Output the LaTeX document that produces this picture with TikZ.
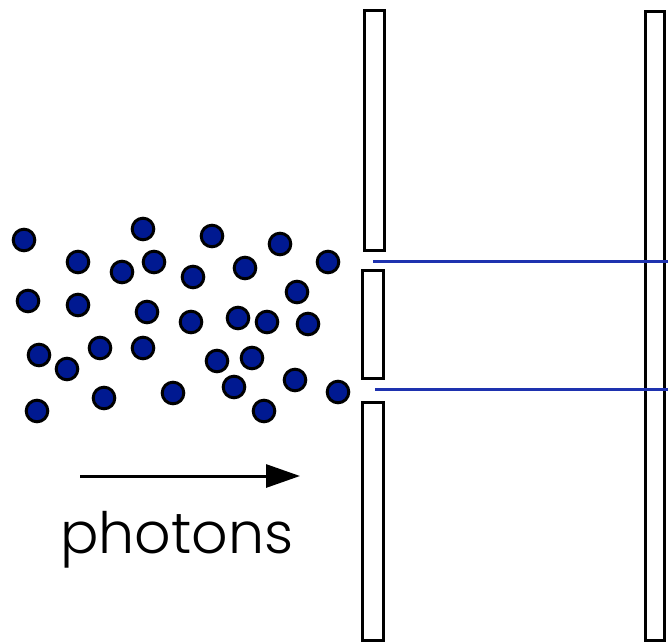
\documentclass[tikz,border=0pt]{standalone}
\usepackage{fontspec}
\setmainfont{Poppins}[UprightFont=* Light]
\usetikzlibrary{arrows.meta}
\definecolor{dotblue}{RGB}{0,25,145}
\definecolor{rayblue}{RGB}{30,50,175}
\begin{document}
\begin{tikzpicture}[x=1pt,y=-1pt,
  photon/.style={fill=dotblue,draw=black,line width=3pt},
  wall/.style={draw=black,line width=3pt,fill=white},
  ray/.style={draw=rayblue,line width=3pt},
  label/.style={font=\fontsize{57}{64}\selectfont,inner sep=0pt,anchor=base west}]
\useasboundingbox (0,0) rectangle (668,643);
% photons
\foreach \x/\y [count=\i] in {24/240,143/229,212/236,280/244,78/262,122/272,154/262,193/277,245/268,328/262,
  28/301,78/305,147/312,297/292,191/322,238/318,267/322,308/324,
  39/355,67/369,100/348,143/348,217/361,252/358,234/387,295/380,338/392,
  37/411,104/398,173/393,264/411}
  \path[photon] (\x,\y) circle[radius=10.8pt];
% rays
\coordinate (r1a) at (373,261); \coordinate (r1b) at (668,261);
\coordinate (r2a) at (375,389); \coordinate (r2b) at (668,389);
% walls
\draw[wall] (364,10.5) rectangle (384.5,250);
\draw[wall] (362,270.5) rectangle (383.5,378.5);
\draw[wall] (362,402) rectangle (383.5,640.5);
\draw[wall] (645,11.5) rectangle (664.5,640.5);
\draw[ray] (r1a) -- (r1b);
\draw[ray] (r2a) -- (r2b);
% arrow
\coordinate (as) at (80,476);
\coordinate (ae) at (300,476);
\draw[line width=3pt,-{Triangle[length=34pt,width=23pt]}] (as) -- (ae);
\node[label] (lbl) at (60,553) {photons};
\end{tikzpicture}
\end{document}
